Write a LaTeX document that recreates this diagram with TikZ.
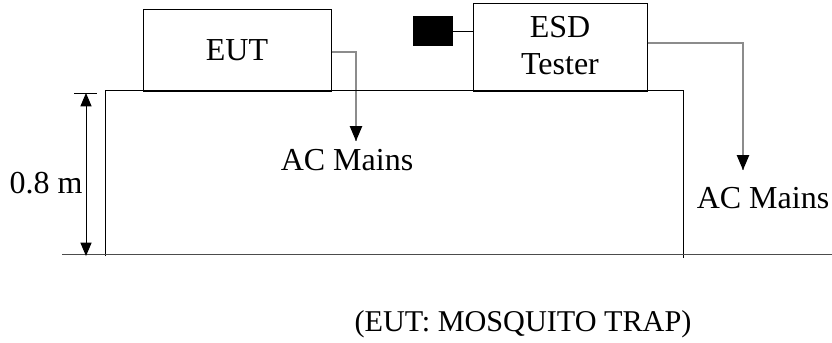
\documentclass[tikz,border=0pt]{standalone}
\usepackage{fontspec}
\setmainfont{Liberation Serif}
\usetikzlibrary{arrows}
\tikzset{
every node/.style={font=\fontsize{16}{18.5}\selectfont, inner sep=0pt},
unit/.style={rectangle, draw, line width=0.5pt},
lbl/.style={anchor=base},
cable/.style={draw=black!45, line width=0.6pt},
plug/.style={-triangle 45, line width=0.7pt}
}

\begin{document}
\begin{tikzpicture}[x=0.5pt, y=-0.5pt, line width=0.5pt]
\useasboundingbox (0,0) rectangle (832,343);

\node[unit, minimum width=94pt, minimum height=41pt] (eut) at (237,50) {};
\node[lbl] at (237,60) {EUT};
\node[unit, minimum width=87pt, minimum height=44pt] (esd) at (560,47) {};
\node[lbl] at (560,37) {ESD};
\node[lbl] at (560,74) {Tester};
\node[rectangle, fill=black, minimum width=20pt, minimum height=15pt] (probe) at (432.5,31) {};

\node[lbl] (mains1) at (347,170) {AC Mains};
\node[lbl] (mains2) at (763,208) {AC Mains};
\node[lbl] (height) at (46,193) {0.8 m};
\node[lbl, font=\fontsize{15.1}{18}\selectfont] (caption) at (523,331) {(EUT: MOSQUITO TRAP)};

\coordinate (tap1) at (356,141);
\coordinate (tap2) at (743,170);
\draw[cable] ([yshift=-1pt]eut.east) -| (tap1);
\draw[cable] ([yshift=2pt]esd.east) -| (tap2);
\draw[plug] ([yshift=6pt]tap1) -- (tap1);
\draw[plug] ([yshift=6pt]tap2) -- (tap2);
\draw (probe.east) -- (probe.east -| esd.west);

\draw (105,256) -- (105,90) -- (683,90) -- (683,258);
\draw[black!70] (62,254) -- (832,254);
\coordinate (top) at (86,93);
\coordinate (floor) at (86,256);
\draw (74,93) -- (97,93);
\draw[triangle 45-triangle 45] (top) -- (floor);
\end{tikzpicture}
\end{document}
